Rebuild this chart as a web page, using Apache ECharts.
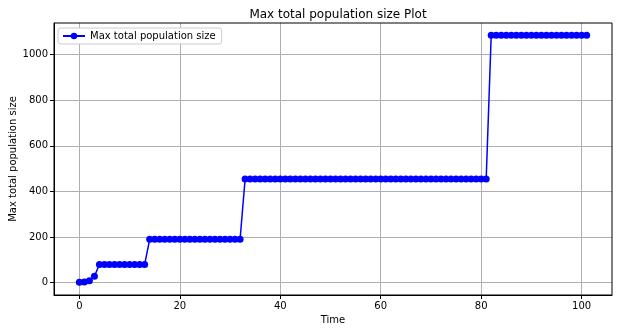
<!DOCTYPE html>
<html>
<head>
<meta charset="utf-8">
<script src="https://cdn.jsdelivr.net/npm/echarts@6/dist/echarts.min.js"></script>
<style>html,body{margin:0;padding:0;background:#fff;}#c{width:618px;height:333px;}</style>
</head>
<body>
<div id="c"></div>
<script>
const time = [0,1,2,3,4,5,6,7,8,9,10,11,12,13,14,15,16,17,18,19,20,21,22,23,24,25,26,27,28,29,30,31,32,33,34,35,36,37,38,39,40,41,42,43,44,45,46,47,48,49,50,51,52,53,54,55,56,57,58,59,60,61,62,63,64,65,66,67,68,69,70,71,72,73,74,75,76,77,78,79,80,81,82,83,84,85,86,87,88,89,90,91,92,93,94,95,96,97,98,99,100,101];
const maxPop = [2,3,8,28,
 80,80,80,80,80,80,80,80,80,80,
 190,190,190,190,190,190,190,190,190,190,190,190,190,190,190,190,190,190,190,
 455,455,455,455,455,455,455,455,455,455,455,455,455,455,455,455,455,455,455,455,455,455,455,455,455,455,455,455,455,455,455,455,455,455,455,455,455,455,455,455,455,455,455,455,455,455,455,455,455,
 1085,1085,1085,1085,1085,1085,1085,1085,1085,1085,1085,1085,1085,1085,1085,1085,1085,1085,1085,1085];
const xTicks = [0,20,40,60,80,100];
const yTicks = [0,200,400,600,800,1000];
const seriesName = 'Max total population size';

const font = 'DejaVu Sans';
const chart = echarts.init(document.getElementById('c'), null, {renderer:'canvas'});
const data = time.map((t,i)=>[t, maxPop[i]]);
chart.setOption({
  animation:false,
  backgroundColor:'#ffffff',
  title:{text:'Max total population size Plot', left:333, textAlign:'center', top:4,
    textStyle:{fontFamily:font, fontSize:12, fontWeight:'normal', color:'#000'}},
  legend:{left:58, top:28, padding:[3,6,3,4], itemWidth:22, itemHeight:8, itemGap:5,
    borderColor:'#cccccc', borderWidth:1, borderRadius:3, backgroundColor:'#ffffff',
    textStyle:{fontFamily:font, fontSize:10, color:'#000'}, data:[seriesName]},
  grid:{left:54, right:6, top:23, bottom:38, containLabel:false, outerBoundsMode:'none'},
  xAxis:{type:'value', min:-5.05, max:106.05, name:'Time', nameLocation:'middle', nameGap:20, nameMoveOverlap:false,
    nameTextStyle:{fontFamily:font, fontSize:10, color:'#000'},
    axisLine:{show:true, onZero:false, lineStyle:{color:'#000', width:1}},
    axisTick:{show:true, length:4, customValues:xTicks, lineStyle:{color:'#000'}},
    axisLabel:{customValues:xTicks, margin:6, fontFamily:font, fontSize:10, color:'#000', formatter:v=>String(v)},
    splitLine:{show:true, lineStyle:{color:'#b0b0b0', width:1}}},
  yAxis:{type:'value', min:-54.25, max:1139.25, name:'Max total population size', nameLocation:'middle', nameGap:36, nameRotate:90, nameMoveOverlap:false,
    nameTextStyle:{fontFamily:font, fontSize:10, color:'#000'},
    axisLine:{show:true, onZero:false, lineStyle:{color:'#000', width:1}},
    axisTick:{show:true, length:4, customValues:yTicks, lineStyle:{color:'#000'}},
    axisLabel:{customValues:yTicks, margin:6, fontFamily:font, fontSize:10, color:'#000', formatter:v=>String(v)},
    splitLine:{show:true, lineStyle:{color:'#b0b0b0', width:1}}},
  graphic:[{type:'rect', shape:{x:54, y:23, width:558, height:272}, style:{fill:'none', stroke:'#000', lineWidth:1}, z:100, silent:true}],
  series:[{name:seriesName, type:'line', data:data, symbol:'circle', symbolSize:7, showSymbol:true,
    itemStyle:{color:'#0000ff'}, lineStyle:{color:'#0000ff', width:1.5}}]
});
</script>
</body>
</html>
